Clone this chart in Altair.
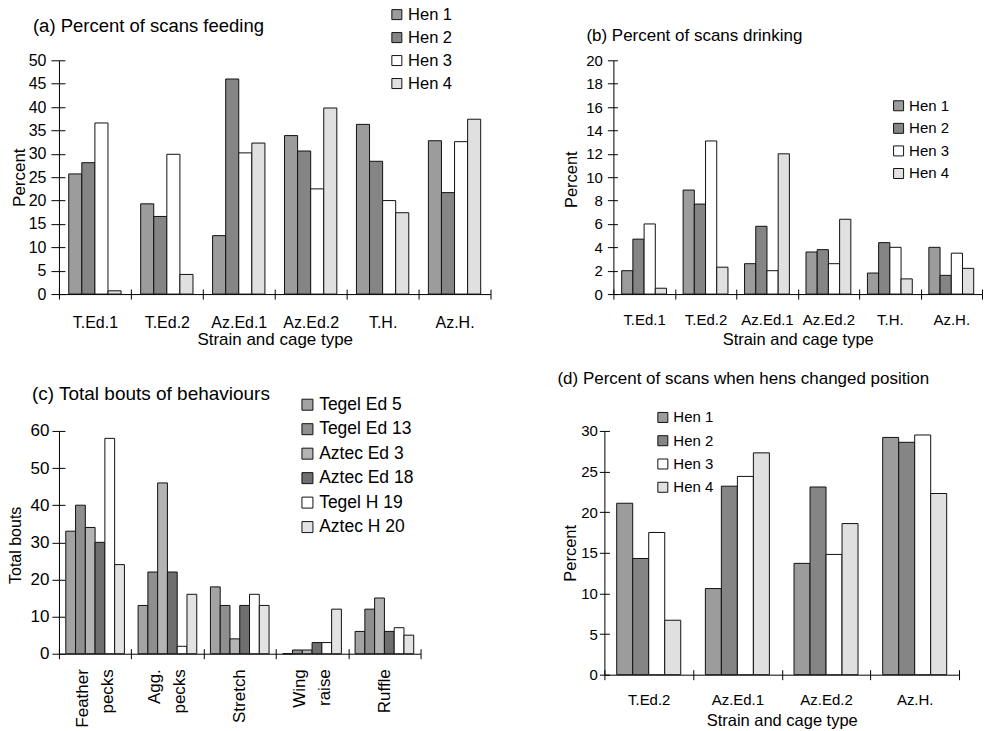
import altair as alt
import pandas as pd

FONT = "Liberation Sans"

# Panels (a) and (b): six strain / cage groups, four hens each
cages = ["T.Ed.1", "T.Ed.2", "Az.Ed.1", "Az.Ed.2", "T.H.", "Az.H."]
hens = ["Hen 1", "Hen 2", "Hen 3", "Hen 4"]

feed_hen1 = [25.7, 19.3, 12.5, 33.9, 36.3, 32.8]
feed_hen2 = [28.1, 16.6, 46.0, 30.6, 28.4, 21.7]
feed_hen3 = [36.6, 29.9, 30.2, 22.5, 20.0, 32.6]
feed_hen4 = [0.7, 4.2, 32.3, 39.8, 17.4, 37.4]

drink_hen1 = [2.0, 8.9, 2.6, 3.6, 1.8, 4.0]
drink_hen2 = [4.7, 7.7, 5.8, 3.8, 4.4, 1.6]
drink_hen3 = [6.0, 13.1, 2.0, 2.6, 4.0, 3.5]
drink_hen4 = [0.5, 2.3, 12.0, 6.4, 1.3, 2.2]

# Panel (c): total bouts per behaviour for six birds
behaviours = ["Feather pecks", "Agg. pecks", "Stretch", "Wing raise", "Ruffle"]
birds = ["Tegel Ed 5", "Tegel Ed 13", "Aztec Ed 3", "Aztec Ed 18", "Tegel H 19", "Aztec H 20"]
bouts_tegel_ed5 = [33, 13, 18, 0, 6]
bouts_tegel_ed13 = [40, 22, 13, 1, 12]
bouts_aztec_ed3 = [34, 46, 4, 1, 15]
bouts_aztec_ed18 = [30, 22, 13, 3, 6]
bouts_tegel_h19 = [58, 2, 16, 3, 7]
bouts_aztec_h20 = [24, 16, 13, 12, 5]

# Panel (d): position changes, four groups
cages_d = ["T.Ed.2", "Az.Ed.1", "Az.Ed.2", "Az.H."]
move_hen1 = [21.1, 10.6, 13.7, 29.2]
move_hen2 = [14.3, 23.2, 23.1, 28.6]
move_hen3 = [17.5, 24.4, 14.8, 29.5]
move_hen4 = [6.7, 27.3, 18.6, 22.3]

hen_fills = ["#9c9c9c", "#858585", "#ffffff", "#e0e0e0"]
bird_fills = ["#a3a3a3", "#8f8f8f", "#b4b4b4", "#6f6f6f", "#ffffff", "#e3e3e3"]

# two-word behaviour names go on two rotated lines; those labels are shifted back
# by half a line so that the pair stays centred on its group
LINE_HEIGHT = 25
TWO_WORDS = "indexof(datum.label, ' ') > 0"


def long_table(groups, names, series):
    rows = []
    for name, vals in zip(names, series):
        for g, v in zip(groups, vals):
            rows.append({"group": g, "series": name, "value": v})
    return pd.DataFrame(rows)


def grouped_bars(df, groups, names, fills, *, width, height, ymax, ystep,
                 y_title, x_title, title, title_size, title_dx, title_dy,
                 label_size, axis_title_size, y_title_x, y_title_y, x_title_y,
                 y_tick, y_tick_in, y_label_pad, x_label_pad, pad_outer,
                 legend_x, legend_y, legend_size, legend_row_pad, symbol_size,
                 multiline=False):
    x_scale = alt.Scale(paddingInner=0, paddingOuter=0)
    off_scale = alt.Scale(paddingInner=0, paddingOuter=pad_outer)
    y_scale = alt.Scale(domain=[0, ymax], nice=False)
    y_vals = list(range(0, ymax + 1, ystep))

    if multiline:
        x_label_opts = dict(
            labelAngle=270, labelAlign="right", labelBaseline="middle",
            labelExpr="split(datum.label, ' ')", labelLineHeight=LINE_HEIGHT,
            labelOffset={"condition": {"test": TWO_WORDS, "value": -LINE_HEIGHT / 2},
                         "value": 0},
            labelPadding=x_label_pad)
    else:
        x_label_opts = dict(labelAngle=0, labelAlign="center", labelBaseline="middle",
                            labelPadding=x_label_pad)

    x_axis = alt.Axis(title=x_title, tickBand="extent", tickSize=5,
                      labelFontSize=label_size, titleFontSize=axis_title_size,
                      titleX=width / 2, titleY=x_title_y, titleBaseline="middle",
                      titleAlign="center", **x_label_opts)
    y_axis = alt.Axis(title=y_title, values=y_vals, tickSize=y_tick,
                      labelPadding=y_label_pad, labelFontSize=label_size,
                      titleFontSize=axis_title_size, titleAngle=270,
                      titleX=y_title_x, titleY=y_title_y, titleAlign="center",
                      titleBaseline="top")

    bars = alt.Chart(df).mark_bar(stroke="#111111", strokeWidth=1).encode(
        x=alt.X("group:N", sort=groups, scale=x_scale, axis=x_axis),
        xOffset=alt.XOffset("series:N", sort=names, scale=off_scale),
        y=alt.Y("value:Q", scale=y_scale, axis=y_axis),
        fill=alt.Fill("series:N", sort=names,
                      scale=alt.Scale(domain=names, range=fills),
                      legend=alt.Legend(title=None, orient="none", legendX=legend_x,
                                        legendY=legend_y, symbolType="square",
                                        symbolSize=symbol_size,
                                        symbolStrokeColor="#111111",
                                        symbolStrokeWidth=1, symbolOpacity=1,
                                        labelFontSize=legend_size, labelFont=FONT,
                                        labelColor="black", labelOffset=3,
                                        rowPadding=legend_row_pad)),
    )

    # second, invisible layer carrying the inner halves of the tick marks
    inner = alt.Chart(df).mark_bar(opacity=0).encode(
        x=alt.X("group:N", sort=groups, scale=x_scale,
                axis=alt.Axis(orient="bottom", offset=-5, tickSize=5, labels=False,
                              domain=False, title=None, tickBand="extent")),
        xOffset=alt.XOffset("series:N", sort=names, scale=off_scale),
        y=alt.Y("value:Q", scale=y_scale,
                axis=alt.Axis(orient="left", offset=-y_tick_in, values=y_vals,
                              tickSize=y_tick_in, labels=False, domain=False,
                              title=None)),
    )

    return alt.layer(bars, inner).resolve_axis(x="independent", y="independent").properties(
        width=width, height=height,
        title=alt.TitleParams(title, anchor="start", frame="group", dx=title_dx,
                              dy=title_dy, fontSize=title_size, fontWeight="normal",
                              font=FONT, color="black", baseline="middle"),
    )


feeding = long_table(cages, hens, [feed_hen1, feed_hen2, feed_hen3, feed_hen4])
drinking = long_table(cages, hens, [drink_hen1, drink_hen2, drink_hen3, drink_hen4])
bouts = long_table(behaviours, birds, [bouts_tegel_ed5, bouts_tegel_ed13, bouts_aztec_ed3,
                                       bouts_aztec_ed18, bouts_tegel_h19, bouts_aztec_h20])
moving = long_table(cages_d, hens, [move_hen1, move_hen2, move_hen3, move_hen4])

panel_a = grouped_bars(
    feeding, cages, hens, hen_fills, width=432, height=234, ymax=50, ystep=5,
    y_title="Percent", x_title="Strain and cage type",
    title="(a) Percent of scans feeding", title_size=18.5, title_dx=-26, title_dy=42,
    label_size=16, axis_title_size=17, y_title_x=-47, y_title_y=117, x_title_y=45,
    y_tick=8, y_tick_in=6, y_label_pad=5, x_label_pad=23, pad_outer=0.75,
    legend_x=330, legend_y=-54, legend_size=16.5, legend_row_pad=6, symbol_size=100)

panel_b = grouped_bars(
    drinking, cages, hens, hen_fills, width=369, height=234, ymax=20, ystep=2,
    y_title="Percent", x_title="Strain and cage type",
    title="(b) Percent of scans drinking", title_size=17, title_dx=-27, title_dy=4,
    label_size=15, axis_title_size=16.5, y_title_x=-50, y_title_y=119, x_title_y=45,
    y_tick=6, y_tick_in=4, y_label_pad=5, x_label_pad=20, pad_outer=0.74,
    legend_x=278, legend_y=38, legend_size=15, legend_row_pad=6.6, symbol_size=100)

panel_c = grouped_bars(
    bouts, behaviours, birds, bird_fills, width=362, height=223, ymax=60, ystep=10,
    y_title="Total bouts", x_title=None,
    title="(c) Total bouts of behaviours", title_size=19, title_dx=-27, title_dy=21,
    label_size=17, axis_title_size=16, y_title_x=-51, y_title_y=114, x_title_y=45,
    y_tick=7, y_tick_in=6, y_label_pad=3, x_label_pad=10, pad_outer=0.7,
    legend_x=240, legend_y=-35, legend_size=17.5, legend_row_pad=5.5, symbol_size=121,
    multiline=True)

panel_d = grouped_bars(
    moving, cages_d, hens, hen_fills, width=355, height=244, ymax=30, ystep=5,
    y_title="Percent", x_title="Strain and cage type",
    title="(d) Percent of scans when hens changed position", title_size=17,
    title_dx=-47, title_dy=-10,
    label_size=15, axis_title_size=16.5, y_title_x=-42, y_title_y=122, x_title_y=46,
    y_tick=5, y_tick_in=5, y_label_pad=2, x_label_pad=20, pad_outer=0.77,
    legend_x=51, legend_y=-21, legend_size=15, legend_row_pad=7.3, symbol_size=100)

independent = dict(x="independent", y="independent", xOffset="independent",
                   fill="independent")

top = alt.hconcat(panel_a, panel_b, spacing=123, bounds="flush").resolve_scale(**independent)
bottom = alt.hconcat(panel_c, panel_d, spacing=184, bounds="flush").resolve_scale(**independent)

# rows are stacked by plot-area top: 234 px of the first row plus the gap below it
chart = alt.vconcat(top, bottom, spacing=371, bounds="flush").resolve_scale(
    **independent
).properties(
    padding={"left": 8, "top": 6, "right": 1, "bottom": 2},
    background="white",
).configure_view(strokeWidth=0).configure_axis(
    grid=False, domainColor="black", tickColor="black", labelColor="black",
    titleColor="black", labelFont=FONT, titleFont=FONT, titleFontWeight="normal",
    domainWidth=1, tickWidth=1,
).configure_legend(labelFont=FONT)

chart.save("out.html", embed_options={"renderer": "svg", "actions": False})
